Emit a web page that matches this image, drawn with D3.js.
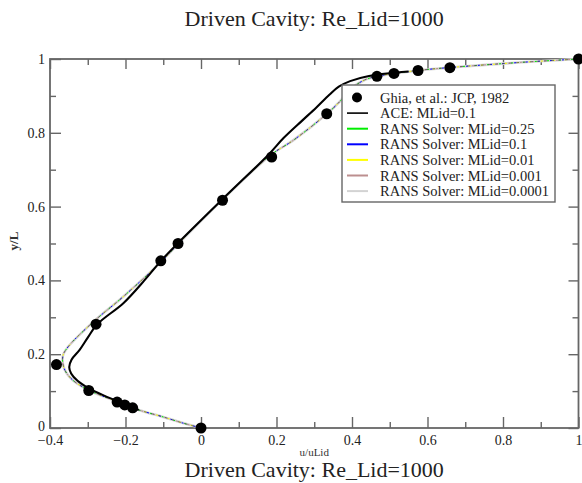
<!DOCTYPE html>
<html>
<head>
<meta charset="utf-8">
<script src="https://cdn.jsdelivr.net/npm/d3@7"></script>
<style>
  html, body { margin: 0; padding: 0; background: #fff; }
  svg text { font-family: "Liberation Serif", "Times New Roman", serif; }
</style>
</head>
<body>
<svg id="chart" width="582" height="483"></svg>
<script>
// Reference data: Ghia, Ghia & Shin (1982), u-velocity on the vertical centreline
const ghiaY = [1.0000, 0.9766, 0.9688, 0.9609, 0.9531, 0.8516, 0.7344, 0.6172, 0.5000, 0.4531, 0.2813, 0.1719, 0.1016, 0.0703, 0.0625, 0.0547, 0.0000];
const ghiaU = [1.0000, 0.65928, 0.57492, 0.51117, 0.46604, 0.33304, 0.18719, 0.05702, -0.06080, -0.10648, -0.27805, -0.38289, -0.29730, -0.22220, -0.20196, -0.18109, 0.00000];

// ACE solution, MLid = 0.1
const aceY = [0.049, 0.068, 0.087, 0.108, 0.128, 0.148, 0.165, 0.185, 0.211, 0.245, 0.281, 0.339, 0.400, 0.453, 0.500, 0.623, 0.740, 0.785, 0.833, 0.868, 0.903, 0.925, 0.940, 0.954, 0.966];
const aceU = [-0.165, -0.210, -0.255, -0.298, -0.327, -0.344, -0.349, -0.343, -0.322, -0.300, -0.275, -0.205, -0.150, -0.106, -0.062, 0.060, 0.178, 0.218, 0.268, 0.305, 0.340, 0.365, 0.395, 0.445, 0.550];

// RANS solver profiles (all Mach numbers collapse onto the same curve)
const ransY = [0.000, 0.014, 0.030, 0.049, 0.066, 0.083, 0.104, 0.130, 0.160, 0.195, 0.220, 0.287, 0.355, 0.442, 0.495, 0.617, 0.740, 0.780, 0.851, 0.885, 0.918, 0.943, 0.953, 0.969, 0.977, 0.991, 1.000];
const ransU = [0.000, -0.050, -0.100, -0.165, -0.207, -0.252, -0.300, -0.340, -0.362, -0.366, -0.352, -0.286, -0.207, -0.114, -0.064, 0.055, 0.185, 0.245, 0.333, 0.368, 0.396, 0.433, 0.466, 0.575, 0.660, 0.850, 1.000];
const ransSeries = ["RANS Solver: MLid=0.25", "RANS Solver: MLid=0.1", "RANS Solver: MLid=0.01", "RANS Solver: MLid=0.001", "RANS Solver: MLid=0.0001"];
const ransColors = ["#00ee00", "#0000ff", "#ffff00", "#bc8f8f", "#d3d3d3"];

const xTicks = [-0.4, -0.2, 0, 0.2, 0.4, 0.6, 0.8, 1];
const yTicks = [0, 0.2, 0.4, 0.6, 0.8, 1];
const xMinor = [-0.3, -0.1, 0.1, 0.3, 0.5, 0.7, 0.9];
const yMinor = [0.1, 0.3, 0.5, 0.7, 0.9];

const titleText = "Driven Cavity: Re_Lid=1000";
const serif = "'Liberation Serif', 'Times New Roman', serif";

const svg = d3.select("#chart");
const x = d3.scaleLinear().domain([-0.4, 1]).range([50, 578.5]);
const y = d3.scaleLinear().domain([0, 1]).range([428, 59]);
const frameColor = "#666";
const cx = (x(-0.4) + x(1)) / 2;

// Titles
svg.append("text").attr("x", cx).attr("y", 26).attr("text-anchor", "middle")
  .style("font-family", serif).attr("font-size", 22).attr("fill", "#222").text(titleText);

// Axis label for x, sitting just above the repeated caption
svg.append("text").attr("x", cx).attr("y", 456).attr("text-anchor", "middle")
  .style("font-family", serif).attr("font-size", 11).attr("fill", "#333").text("u/uLid");
svg.append("text").attr("x", cx).attr("y", 477).attr("text-anchor", "middle")
  .style("font-family", serif).attr("font-size", 22).attr("fill", "#222").text(titleText);

svg.append("text")
  .attr("transform", "translate(18,241) rotate(-90)")
  .attr("text-anchor", "middle").style("font-family", serif)
  .attr("font-size", 13).attr("font-weight", "bold")
  .attr("fill", "#333").text("y/L");

// Axes: ticks point inward on all four sides
function addAxis(axis, tx, ty) {
  const g = svg.append("g").attr("transform", `translate(${tx},${ty})`).call(axis);
  g.select(".domain").remove();
  g.selectAll(".tick line").attr("stroke", frameColor).attr("stroke-width", 1.4);
  g.selectAll("text").style("font-family", serif).attr("font-size", 14).attr("fill", "#222");
  return g;
}
addAxis(d3.axisBottom(x).tickValues(xTicks).tickSize(-11).tickPadding(7).tickFormat(d3.format("")), 0, y(0));
addAxis(d3.axisBottom(x).tickValues(xMinor).tickSize(-6).tickFormat(""), 0, y(0));
addAxis(d3.axisTop(x).tickValues(xTicks).tickSize(-10).tickFormat(""), 0, y(1));
addAxis(d3.axisTop(x).tickValues(xMinor).tickSize(-6).tickFormat(""), 0, y(1));
const yAxisG = addAxis(d3.axisLeft(y).tickValues(yTicks).tickSize(-11).tickPadding(5).tickFormat(d3.format("")), x(-0.4), 0);
// lift the lowest label a touch so it clears the first x label
yAxisG.selectAll(".tick text").filter(d => d === 0).attr("dy", "0.2em");
addAxis(d3.axisLeft(y).tickValues(yMinor).tickSize(-6).tickFormat(""), x(-0.4), 0);
addAxis(d3.axisRight(y).tickValues(yTicks).tickSize(-10).tickFormat(""), x(1), 0);
addAxis(d3.axisRight(y).tickValues(yMinor).tickSize(-6).tickFormat(""), x(1), 0);

// Frame
svg.append("rect").attr("x", x(-0.4)).attr("y", y(1))
  .attr("width", x(1) - x(-0.4)).attr("height", y(0) - y(1))
  .attr("fill", "none").attr("stroke", frameColor).attr("stroke-width", 1.8);

// Curves
const line = d3.line().x(d => x(d[0])).y(d => y(d[1])).curve(d3.curveCatmullRom.alpha(0.5));
const ransPts = ransU.map((u, i) => [u, ransY[i]]);
const acePts = aceU.map((u, i) => [u, aceY[i]]);

// RANS: the lightest run is widest, the others lie on top of it
svg.append("path").attr("d", line(ransPts)).attr("fill", "none")
  .attr("stroke", ransColors[4]).attr("stroke-width", 2.6);
const offsets = [0, 3, 6, 9];
[3, 2, 1, 0].forEach((k, j) => {
  svg.append("path").attr("d", line(ransPts)).attr("fill", "none")
    .attr("stroke", ransColors[k]).attr("stroke-width", 1)
    .attr("stroke-dasharray", "2,10").attr("stroke-dashoffset", offsets[j]);
});
svg.append("path").attr("d", line(ransPts)).attr("fill", "none")
  .attr("stroke", "#555").attr("stroke-width", 0.8).attr("stroke-dasharray", "3,4");

// ACE
svg.append("path").attr("d", line(acePts)).attr("fill", "none")
  .attr("stroke", "#000").attr("stroke-width", 2.1);

// Ghia markers
svg.append("g").selectAll("circle").data(ghiaU.map((u, i) => [u, ghiaY[i]])).join("circle")
  .attr("cx", d => x(d[0])).attr("cy", d => y(d[1])).attr("r", 5.5).attr("fill", "#000");

// Legend
const lg = svg.append("g").attr("transform", "translate(342,85)");
lg.append("rect").attr("width", 213).attr("height", 117)
  .attr("fill", "#fff").attr("stroke", frameColor).attr("stroke-width", 1.4);
const entries = [{ label: "Ghia, et al.: JCP, 1982", type: "dot" },
  { label: "ACE: MLid=0.1", type: "line", color: "#000", w: 1.6 }]
  .concat(ransSeries.map((s, i) => ({ label: s, type: "line", color: ransColors[i], w: 2 })));
entries.forEach((e, i) => {
  const cy = 12.5 + i * 15.6;
  if (e.type === "dot") {
    lg.append("circle").attr("cx", 15).attr("cy", cy).attr("r", 5).attr("fill", "#000");
  } else {
    lg.append("line").attr("x1", 5).attr("x2", 26).attr("y1", cy).attr("y2", cy)
      .attr("stroke", e.color).attr("stroke-width", e.w);
  }
  lg.append("text").attr("x", 38).attr("y", cy + 5).style("font-family", serif)
    .attr("font-size", 14.5).attr("fill", "#222").text(e.label);
});
</script>
</body>
</html>
